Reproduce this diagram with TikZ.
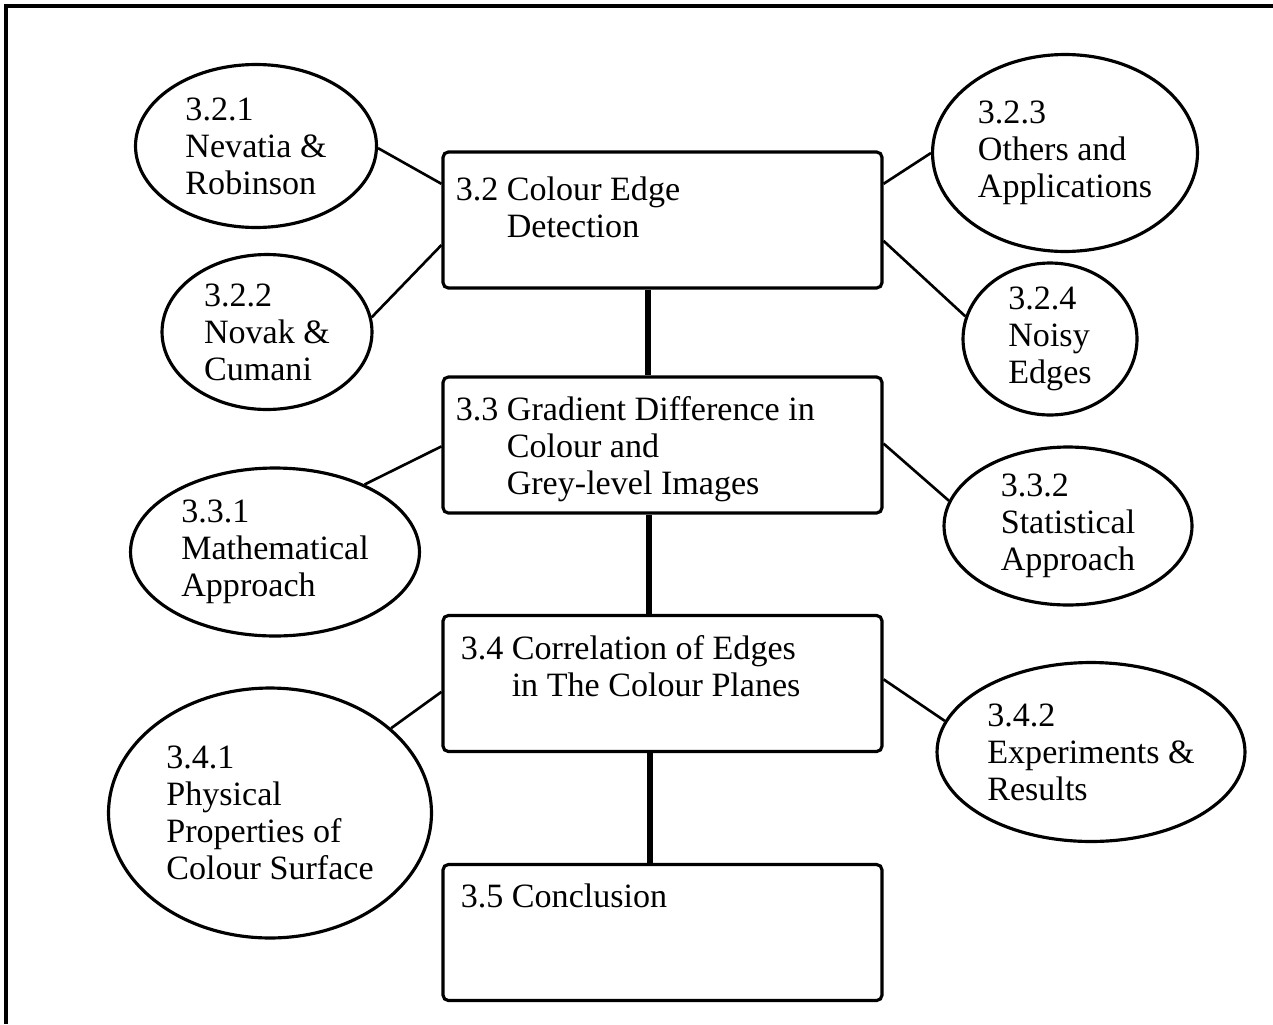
\documentclass[tikz,border=0pt]{standalone}
\usepackage{fontspec}
\setmainfont{Liberation Serif}
\usetikzlibrary{shapes.geometric}
\usetikzlibrary{calc}
\tikzset {
  % section boxes
  sect/.style = {draw, line width=1.8pt, rounded corners=3pt, minimum width=8.78cm, minimum height=2.72cm, inner sep=0pt},
  sectlbl/.style = {anchor=north west, align=left, inner sep=0pt, xshift=0.28cm, yshift=-0.42cm},
  % subsection ellipses
  sub/.style = {draw, ellipse, line width=1.8pt, align=left, inner sep=0pt},
  % connectors
  link/.style = {line width=1.5pt},
  spine/.style = {line width=3.4pt},
}

\begin{document}
\begin{tikzpicture}[
        x=0.02cm, y=-0.02cm,
        font=\fontsize{19.4}{21}\selectfont,
      ]
        \useasboundingbox (0,0) rectangle (1273,1024);
        \draw[line width=2pt] (1273,6) -- (6,6) -- (6,1024);

        % main sections
        \node[sect, label={[sectlbl, yshift=-0.1cm]north west:{3.2 Colour Edge\\\hspace*{29pt}Detection}}] (b32) at (662.5,220) {};
        \node[sect, label={[sectlbl]north west:{3.3 Gradient Difference in\\\hspace*{29pt}Colour and\\\hspace*{29pt}Grey-level Images}}] (b33) at (662.5,445) {};
        \node[sect, label={[sectlbl, xshift=0.1cm]north west:{3.4 Correlation of Edges\\\hspace*{29pt}in The Colour Planes}}] (b34) at (662.5,683.5) {};
        \node[sect, label={[sectlbl, xshift=0.1cm]north west:{3.5 Conclusion}}] (b35) at (662.5,932.5) {};

        % subsections
        \node[sub, minimum width=4.82cm, minimum height=3.26cm] (e321) at (256,146) {3.2.1\\Nevatia \&\\Robinson};
        \node[sub, minimum width=4.2cm, minimum height=3.1cm] (e322) at (267,332) {3.2.2\\Novak \&\\Cumani};
        \node[sub, minimum width=5.3cm, minimum height=3.94cm] (e323) at (1065,153) {3.2.3\\Others and\\Applications};
        \node[sub, minimum width=3.48cm, minimum height=3.04cm] (e324) at (1050,339) {3.2.4\\Noisy\\Edges};
        \node[sub, minimum width=5.78cm, minimum height=3.36cm] (e331) at (275,552) {3.3.1\\Mathematical\\Approach};
        \node[sub, minimum width=4.96cm, minimum height=3.16cm] (e332) at (1068,526) {3.3.2\\Statistical\\Approach};
        \node[sub, minimum width=6.46cm, minimum height=5.0cm] (e341) at (270,813) {3.4.1\\Physical\\Properties of\\Colour Surface};
        \node[sub, minimum width=6.16cm, minimum height=3.58cm] (e342) at (1091,752) {3.4.2\\Experiments \&\\Results};

        \draw[link] (e321.359) -- ($(b32.north west)!.24!(b32.south west)$);
        \draw[link] (e322.8) -- ($(b32.north west)!.68!(b32.south west)$);
        \draw[link] (e323.180) -- ($(b32.north east)!.24!(b32.south east)$);
        \draw[link] (e324.165) -- ($(b32.north east)!.65!(b32.south east)$);
        \draw[link] (e331.37) -- ($(b33.north west)!.51!(b33.south west)$);
        \draw[link] (e332.168) -- ($(b33.north east)!.49!(b33.south east)$);
        \draw[link] (e341.35) -- ($(b34.north west)!.56!(b34.south west)$);
        \draw[link] (e342.168) -- ($(b34.north east)!.47!(b34.south east)$);

        \draw[spine] ([xshift=-0.3cm]b32.south) -- ([xshift=-0.3cm]b33.north);
        \draw[spine] ([xshift=-0.28cm]b33.south) -- ([xshift=-0.28cm]b34.north);
        \draw[spine] ([xshift=-0.26cm]b34.south) -- ([xshift=-0.26cm]b35.north);
      \end{tikzpicture}
\end{document}
